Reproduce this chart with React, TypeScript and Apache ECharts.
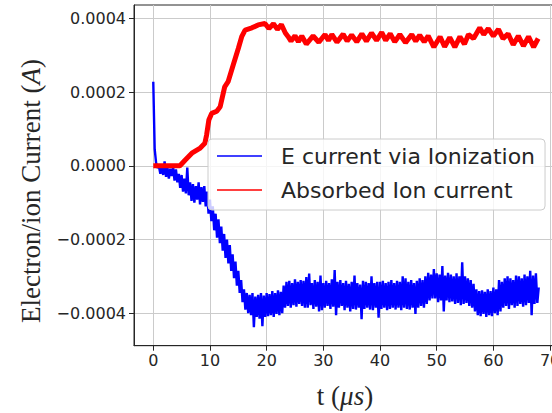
import React, { useEffect, useRef } from 'react';
import * as echarts from 'echarts';

const X_TICKS = [0, 10, 20, 30, 40, 50, 60, 70];
const Y_TICKS = [-0.0004, -0.0002, 0, 0.0002, 0.0004];
const SERIES_NAMES = ['E current via Ionization', 'Absorbed Ion current'];

// Electron current (µA), sampled every 0.25 µs from t = 0 to t = 68 µs
const SAMPLE_STEP_US = 0.25;
const electronCurrent_uA = [
  228, 45, 8, -6,
  -2, -22, 0, -25,
  12, -30, -5, -35,
  -8, -28, -3, -40,
  -10, -45, -22, -60,
  -25, -70, -35, -75,
  -5, -80, -45, -95,
  -50, -100, -55, -92,
  -45, -105, -58, -98,
  -55, -110, -70, -130,
  -92, -150, -110, -175,
  -130, -195, -145, -210,
  -165, -230, -185, -250,
  -200, -265, -215, -285,
  -240, -305, -260, -325,
  -285, -345, -310, -370,
  -335, -390, -345, -400,
  -350, -405, -345, -438,
  -355, -410, -350, -415,
  -345, -435, -352, -410,
  -345, -408, -348, -405,
  -340, -410, -345, -402,
  -338, -405, -342, -400,
  -325, -385, -315, -380,
  -312, -385, -318, -378,
  -308, -382, -315, -375,
  -310, -380, -312, -385,
  -302, -385, -292, -378,
  -318, -388, -310, -382,
  -315, -395, -298, -392,
  -318, -385, -312, -380,
  -318, -388, -308, -382,
  -283, -405, -315, -385,
  -310, -380, -318, -392,
  -312, -385, -320, -395,
  -315, -388, -298, -390,
  -318, -385, -322, -416,
  -312, -388, -315, -385,
  -318, -390, -300, -392,
  -318, -385, -315, -412,
  -315, -388, -312, -385,
  -318, -392, -315, -388,
  -310, -385, -318, -390,
  -312, -385, -315, -392,
  -300, -385, -305, -388,
  -315, -390, -310, -385,
  -318, -402, -312, -385,
  -305, -380, -310, -385,
  -300, -375, -290, -365,
  -295, -360, -280, -360,
  -292, -370, -295, -365,
  -272, -395, -298, -365,
  -290, -370, -295, -368,
  -300, -375, -292, -372,
  -300, -378, -262, -375,
  -300, -372, -305, -380,
  -310, -385, -320, -395,
  -335, -405, -340, -408,
  -338, -402, -342, -410,
  -335, -405, -340, -408,
  -330, -400, -335, -405,
  -310, -395, -315, -385,
  -305, -380, -300, -388,
  -305, -378, -310, -385,
  -298, -380, -300, -375,
  -305, -382, -295, -378,
  -300, -372, -285, -405,
  -298, -375, -292, -372,
  -330,
];

// Absorbed ion current: times (µs) and values (µA)
const ionTime_us = [
  0, 4.7, 5.6, 6.8, 8.2, 9.1, 9.4, 9.8, 10.3, 11.2, 11.8, 12.6, 13.2, 14.1, 15.0, 15.6, 16.2, 17.4,
  18.5, 19.7, 20.4, 21.2, 21.9, 22.6, 23.3, 23.8, 24.3, 25.0, 25.6, 26.2, 27.0, 28.2, 29.2, 30.3,
  30.9, 31.5, 32.4, 33.5, 34.2, 35.0, 35.9, 36.8, 37.6, 38.5, 39.4, 40.3, 41.0, 41.8, 42.6, 43.5,
  44.5, 45.6, 46.3, 47.0, 47.8, 48.5, 49.5, 50.6, 51.4, 52.3, 53.2, 54.1, 54.9, 55.6, 56.5, 57.6,
  58.3, 59.1, 60.0, 60.9, 61.7, 62.6, 63.5, 64.4, 65.3, 66.2, 67.1, 67.9,
];
const ionCurrent_uA = [
  0, 0, 15, 34, 47, 61, 83, 124, 142, 148, 160, 214, 228, 273, 318, 350, 368, 374,
  382, 386, 372, 385, 370, 383, 360, 350, 338, 353, 336, 352, 330, 352, 335, 356,
  340, 356, 335, 357, 338, 355, 336, 358, 338, 360, 340, 362, 340, 358, 336, 356,
  334, 356, 338, 354, 336, 352, 322, 350, 323, 348, 322, 350, 330, 356, 345, 374,
  356, 372, 352, 370, 345, 358, 328, 352, 325, 350, 322, 345,
];

const TEXT_COLOR = '#262626';
const SANS = 'DejaVu Sans';
const SERIF = 'Liberation Serif';

function fmtY(v: number): string {
  if (Math.abs(v) < 1e-12) return '0.0000';
  const s = Math.abs(v).toFixed(4);
  return v < 0 ? '\u2212' + s : s;
}

export default function App() {
  const ref = useRef<HTMLDivElement>(null);
  useEffect(() => {
    if (!ref.current) return;
    const chart = echarts.init(ref.current, null, { renderer: 'svg' });
    const blue = electronCurrent_uA.map((v, i) => [i * SAMPLE_STEP_US, v * 1e-6]);
    const red = ionTime_us.map((t, i) => [t, ionCurrent_uA[i] * 1e-6]);
    chart.setOption({
      animation: false,
      backgroundColor: '#ffffff',
      grid: {
        left: 134,
        top: 5,
        width: 424,
        height: 340.7,
        outerBoundsMode: 'none',
        containLabel: false,
        show: true,
        borderColor: TEXT_COLOR,
        borderWidth: 1,
        backgroundColor: 'transparent',
      },
      xAxis: {
        type: 'value',
        min: -3.4,
        max: 71.4,
        minInterval: 10,
        maxInterval: 10,
        axisLine: { show: true, onZero: false, lineStyle: { color: TEXT_COLOR, width: 1 } },
        axisTick: { show: true, customValues: X_TICKS, length: 5, inside: false, lineStyle: { color: TEXT_COLOR } },
        axisLabel: {
          customValues: X_TICKS,
          margin: 7,
          fontSize: 16,
          fontFamily: SANS,
          color: TEXT_COLOR,
        },
        splitLine: { show: true, lineStyle: { color: '#cbcbcb', width: 1 } },
      },
      yAxis: {
        type: 'value',
        min: -0.000488,
        max: 0.000436,
        minInterval: 0.0002,
        maxInterval: 0.0002,
        axisLine: { show: true, onZero: false, lineStyle: { color: TEXT_COLOR, width: 1 } },
        axisTick: { show: true, customValues: Y_TICKS, length: 5, inside: false, lineStyle: { color: TEXT_COLOR } },
        axisLabel: {
          customValues: Y_TICKS,
          margin: 8,
          fontSize: 16,
          fontFamily: SANS,
          color: TEXT_COLOR,
          formatter: fmtY,
        },
        splitLine: { show: true, lineStyle: { color: '#cbcbcb', width: 1 } },
      },
      legend: {
        data: SERIES_NAMES,
        orient: 'vertical',
        left: 208,
        top: 139,
        icon: 'rect',
        itemWidth: 45,
        itemHeight: 1.6,
        itemGap: 10,
        padding: [5, 10, 8, 9],
        backgroundColor: 'rgba(255,255,255,0.8)',
        borderColor: '#cccccc',
        borderWidth: 1,
        borderRadius: 4,
        textStyle: {
          fontSize: 22,
          fontFamily: SANS,
          color: TEXT_COLOR,
          lineHeight: 24,
          padding: [0, 0, 0, 14],
        },
      },
      graphic: [
        {
          type: 'text',
          x: 345,
          y: 396,
          style: {
            text: 't ({i|μs})',
            font: `27px "${SERIF}"`,
            fill: TEXT_COLOR,
            align: 'center',
            verticalAlign: 'middle',
            rich: { i: { fontStyle: 'italic', fontSize: 27, fontFamily: SERIF, fill: TEXT_COLOR } },
          },
        },
        {
          type: 'text',
          x: 31,
          y: 191,
          rotation: Math.PI / 2,
          style: {
            text: 'Electron/ion Current ({i|A})',
            font: `27px "${SERIF}"`,
            fill: TEXT_COLOR,
            align: 'center',
            verticalAlign: 'middle',
            rich: { i: { fontStyle: 'italic', fontSize: 27, fontFamily: SERIF, fill: TEXT_COLOR } },
          },
        },
      ],
      series: [
        {
          name: SERIES_NAMES[0],
          type: 'line',
          data: blue,
          symbol: 'none',
          lineStyle: { color: '#0000ff', width: 2.4, join: 'miter', miterLimit: 2 },
          itemStyle: { color: '#0000ff' },
          z: 2,
        },
        {
          name: SERIES_NAMES[1],
          type: 'line',
          data: red,
          symbol: 'none',
          lineStyle: { color: '#ff0000', width: 5 },
          itemStyle: { color: '#ff0000' },
          z: 3,
        },
      ],
    });
    return () => chart.dispose();
  }, []);
  return <div ref={ref} style={{ position: 'fixed', left: 0, top: 0, width: 552, height: 413 }} />;
}
